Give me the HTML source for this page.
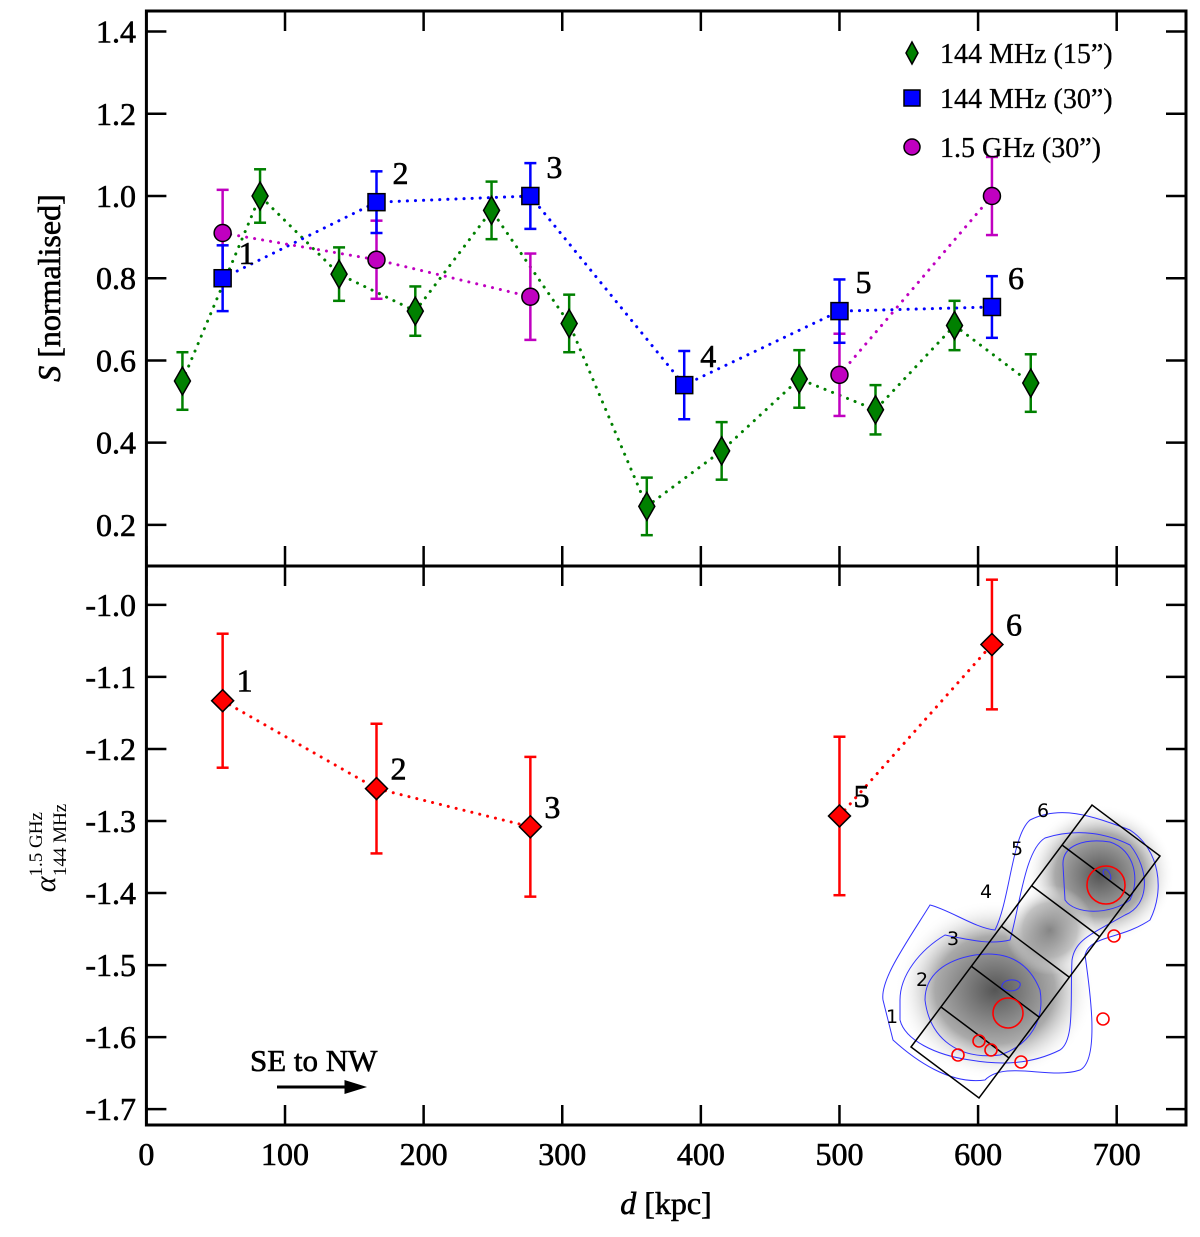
<!DOCTYPE html>
<html><head><meta charset="utf-8"><style>
body{margin:0;background:#fff}
svg text{font-family:"Liberation Serif","DejaVu Serif",serif}
svg text.sans{font-family:"DejaVu Sans","Liberation Sans",sans-serif}
</style></head><body>
<svg id="c" width="1200" height="1232" viewBox="0 0 1200 1232" xmlns="http://www.w3.org/2000/svg">
<defs>
<radialGradient id="g1" cx="50%" cy="50%" r="50%"><stop offset="0" stop-color="#555"/><stop offset="0.6" stop-color="#aaa"/><stop offset="1" stop-color="#fff" stop-opacity="0"/></radialGradient>
</defs>
<g id="inset">
<ellipse cx="995" cy="990" rx="100" ry="90" fill="url(#g1)"/>
<ellipse cx="1100" cy="875" rx="75" ry="70" fill="url(#g1)"/>
<ellipse cx="1050" cy="930" rx="45" ry="45" fill="url(#g1)" opacity="0.7"/>
<g fill="none" stroke="#33f" stroke-width="1">
<path d="M883,1000 C880,980 905,945 930,905 C950,910 975,928 995,930 C1010,900 1012,835 1030,820 C1060,805 1090,815 1130,830 C1160,850 1165,890 1150,920 C1120,940 1090,935 1085,955 C1090,990 1100,1060 1080,1070 C1050,1080 1005,1060 985,1080 C950,1085 915,1060 893,1040 Z"/>
<path d="M900,1000 C900,975 920,950 945,935 C970,940 990,945 1010,940 C1020,905 1025,850 1045,838 C1070,830 1100,830 1130,845 C1150,870 1150,905 1125,915 C1090,935 1075,940 1072,960 C1070,1000 1075,1040 1060,1050 C1030,1065 1000,1065 970,1060 C935,1055 905,1040 900,1020 Z"/>
<path d="M925,1000 C925,975 945,960 975,955 C1010,950 1030,965 1040,990 C1045,1020 1030,1045 1000,1055 C960,1060 930,1040 925,1000 Z"/>
<path d="M1063,865 C1062,845 1085,838 1110,842 C1135,850 1140,880 1130,900 C1110,915 1075,915 1065,900 Z"/>
<path d="M1002,988 C1000,980 1015,977 1020,983 C1022,990 1010,994 1002,988 Z"/>
<path d="M1103,872 C1104,867 1110,870 1111,878 C1110,882 1104,879 1103,872 Z"/>
</g>
<g fill="none" stroke="#000" stroke-width="1.5">
<polygon points="911,1047 1092,805 1160,856 979,1098"/>
<line x1="941" y1="1007" x2="1009" y2="1058"/>
<line x1="971" y1="966" x2="1039" y2="1017"/>
<line x1="1001" y1="926" x2="1069" y2="977"/>
<line x1="1032" y1="886" x2="1100" y2="937"/>
<line x1="1062" y1="845" x2="1130" y2="896"/>
</g>
<g fill="none" stroke="#f00" stroke-width="1.6">
<circle cx="1008" cy="1013" r="15"/><circle cx="1106" cy="885" r="19"/>
<circle cx="958" cy="1055" r="6"/><circle cx="979" cy="1041" r="6"/><circle cx="991" cy="1050" r="6"/>
<circle cx="1021" cy="1062" r="6"/><circle cx="1114" cy="936" r="6"/><circle cx="1103" cy="1019" r="6"/>
</g>
<g font-size="19" fill="#000">
<text class="sans" x="886" y="1023">1</text><text class="sans" x="916" y="986">2</text><text class="sans" x="947" y="945">3</text>
<text class="sans" x="980" y="898">4</text><text class="sans" x="1011" y="855">5</text><text class="sans" x="1037" y="817">6</text>
</g>
</g>
<g id="axes"></g>
<g id="marks"></g>
</svg>
<script>
var catS15=[26,82,139,194,249,305,361,415,471,526,583,638];
var valS15=[0.55,1.0,0.81,0.72,0.965,0.69,0.245,0.38,0.555,0.48,0.685,0.545];
var errS15=[0.07,0.065,0.065,0.06,0.07,0.07,0.07,0.07,0.07,0.06,0.06,0.07];
var catS30=[55,166,277,388,500,610];
var valS30=[0.80,0.985,1.0,0.54,0.72,0.73];
var errS30=[0.08,0.075,0.08,0.083,0.077,0.075];
var lblS30=["1","2","3","4","5","6"];
var catG=[55,166,277,500,610];
var valG=[0.91,0.845,0.755,0.565,1.0];
var errG=[0.105,0.095,0.105,0.1,0.095];
var valA=[-1.133,-1.255,-1.308,-1.293,-1.055];
var errA=[0.093,0.09,0.097,0.11,0.09];
var lblA=["1","2","3","5","6"];
var xTicks=[0,100,200,300,400,500,600,700];
var yTopTicks=[0.2,0.4,0.6,0.8,1.0,1.2,1.4];
var yBotTicks=[-1.7,-1.6,-1.5,-1.4,-1.3,-1.2,-1.1,-1.0];

var NS="http://www.w3.org/2000/svg";
var L=146.4,R=1186,T=11,M=566,B=1125;
function X(v){return L+(v-0)/750*(R-L);}
function YT(v){return M-(v-0.1)/(1.45-0.1)*(M-T);}
function YB(v){return B-(v+1.722)/(-0.946+1.722)*(B-M);}
var ax=document.getElementById('axes'),mk=document.getElementById('marks');
function el(p,t,a){var e=document.createElementNS(NS,t);for(var k in a)e.setAttribute(k,a[k]);p.appendChild(e);return e;}
function tx(p,x,y,s,size,anchor){var e=el(p,'text',{x:x,y:y,'font-size':size,'text-anchor':anchor||'start',fill:'#000',stroke:'#000','stroke-width':0.6});e.textContent=s;return e;}

var f=el(ax,'rect',{x:L,y:T,width:R-L,height:B-T,fill:'none',stroke:'#000','stroke-width':3});


var sep=el(ax,'line',{x1:L,x2:R,y1:M,y2:M,stroke:'#000','stroke-width':3});


xTicks.forEach(function(v){
  [[T,T+20],[M-20,M],[M,M+20],[B-20,B]].forEach(function(p){
    el(ax,'line',{x1:X(v),x2:X(v),y1:p[0],y2:p[1],stroke:'#000','stroke-width':2.5});
  });
  var t=tx(ax,X(v),1165,String(v),32,'middle');
  
  
});
yTopTicks.forEach(function(v){
  el(ax,'line',{x1:L,x2:L+20,y1:YT(v),y2:YT(v),stroke:'#000','stroke-width':2.5});
  el(ax,'line',{x1:R-20,x2:R,y1:YT(v),y2:YT(v),stroke:'#000','stroke-width':2.5});
  var t=tx(ax,136,YT(v)+11,v.toFixed(1),32,'end');
  
  
});
yBotTicks.forEach(function(v){
  el(ax,'line',{x1:L,x2:L+20,y1:YB(v),y2:YB(v),stroke:'#000','stroke-width':2.5});
  el(ax,'line',{x1:R-20,x2:R,y1:YB(v),y2:YB(v),stroke:'#000','stroke-width':2.5});
  var t=tx(ax,136,YB(v)+11,v.toFixed(1),32,'end');
  
  
});
var xl=el(ax,'text',{x:666,y:1214,'font-size':32,'text-anchor':'middle',stroke:'#000','stroke-width':0.6});
xl.innerHTML='<tspan font-style="italic">d</tspan> [kpc]';


var yl=el(ax,'text',{x:0,y:0,'font-size':32,'text-anchor':'middle',transform:'translate(60,288) rotate(-90)',stroke:'#000','stroke-width':0.6});
yl.innerHTML='<tspan font-style="italic">S</tspan> [normalised]';


var yl2=el(ax,'text',{x:0,y:0,'font-size':30,'text-anchor':'middle',transform:'translate(55,848) rotate(-90)'});
yl2.innerHTML='<tspan font-style="italic">α</tspan><tspan font-size="19" dy="-13">1.5 GHz</tspan><tspan font-size="19" dx="-64" dy="24">144 MHz</tspan>';


var an=tx(ax,250,1071,'SE to NW',31);


var ar=el(ax,'path',{d:'M277,1087 L350,1087 M346,1082 L362,1087 L346,1092 Z',stroke:'#000','stroke-width':3,fill:'#000'});



function line(xs,ys,col,name){
  var pts=xs.map(function(x,i){return x+','+ys[i];}).join(' ');
  var p=el(mk,'polyline',{points:pts,fill:'none',stroke:col,'stroke-width':3,'stroke-dasharray':'0.1 8','stroke-linecap':'round'});
  
  
}
function err(x,y1,y2,col){
  el(mk,'line',{x1:x,x2:x,y1:y1,y2:y2,stroke:col,'stroke-width':2.5});
  el(mk,'line',{x1:x-6,x2:x+6,y1:y1,y2:y1,stroke:col,'stroke-width':2.5});
  el(mk,'line',{x1:x-6,x2:x+6,y1:y2,y2:y2,stroke:col,'stroke-width':2.5});
}
function diamond(x,y,w,h,col,name){
  var d=el(mk,'polygon',{points:(x)+','+(y-h)+' '+(x+w)+','+y+' '+x+','+(y+h)+' '+(x-w)+','+y,fill:col,stroke:'#000','stroke-width':1.5});
  
  
}
line(catS15.map(X),valS15.map(YT),'#008000','line-144mhz-15');
line(catS30.map(X),valS30.map(YT),'#0000ff','line-144mhz-30');
line(catG.slice(0,3).map(X),valG.slice(0,3).map(YT),'#c000c0','line-1p5ghz-a');
line(catG.slice(3).map(X),valG.slice(3).map(YT),'#c000c0','line-1p5ghz-b');
line(catG.slice(0,3).map(X),valA.slice(0,3).map(YB),'#ff0000','line-alpha-a');
line(catG.slice(3).map(X),valA.slice(3).map(YB),'#ff0000','line-alpha-b');
catS15.forEach(function(c,i){err(X(c),YT(valS15[i]+errS15[i]),YT(valS15[i]-errS15[i]),'#008000');});
catG.forEach(function(c,i){err(X(c),YT(valG[i]+errG[i]),YT(valG[i]-errG[i]),'#c000c0');});
catS30.forEach(function(c,i){err(X(c),YT(valS30[i]+errS30[i]),YT(valS30[i]-errS30[i]),'#0000ff');});
catG.forEach(function(c,i){err(X(c),YB(valA[i]+errA[i]),YB(valA[i]-errA[i]),'#ff0000');});
catS15.forEach(function(c,i){diamond(X(c),YT(valS15[i]),8,14,'#008000','point-144mhz-15');});
catG.forEach(function(c,i){
  var e=el(mk,'circle',{cx:X(c),cy:YT(valG[i]),r:8.5,fill:'#c000c0',stroke:'#000','stroke-width':1.5});
  
  
});
catS30.forEach(function(c,i){
  var e=el(mk,'rect',{x:X(c)-8.5,y:YT(valS30[i])-8.5,width:17,height:17,fill:'#0000ff',stroke:'#000','stroke-width':1.5});
  
  
  var t=tx(mk,X(c)+16,YT(valS30[i])+(i==0?-14:-18),lblS30[i],32);
  
  
});
catG.forEach(function(c,i){
  diamond(X(c),YB(valA[i]),11,11,'#ff0000','point-spectral-index');
  var t=tx(mk,X(c)+14,YB(valA[i])-9,lblA[i],32);
  
  
});
var lg=el(mk,'g',{});


diamond(912,53,6,11,'#008000','legend-marker-144mhz-15');
var r=el(lg,'rect',{x:904,y:90,width:16,height:16,fill:'#0000ff',stroke:'#000','stroke-width':1.5});


var ci=el(lg,'circle',{cx:912,cy:147,r:8,fill:'#c000c0',stroke:'#000','stroke-width':1.5});


[['144 MHz (15”)',63],['144 MHz (30”)',108],['1.5 GHz (30”)',157]].forEach(function(a){
  var t=tx(lg,940,a[1],a[0],28);
  t.setAttribute('stroke-width','0.3');
  
  
});
</script>
</body></html>
